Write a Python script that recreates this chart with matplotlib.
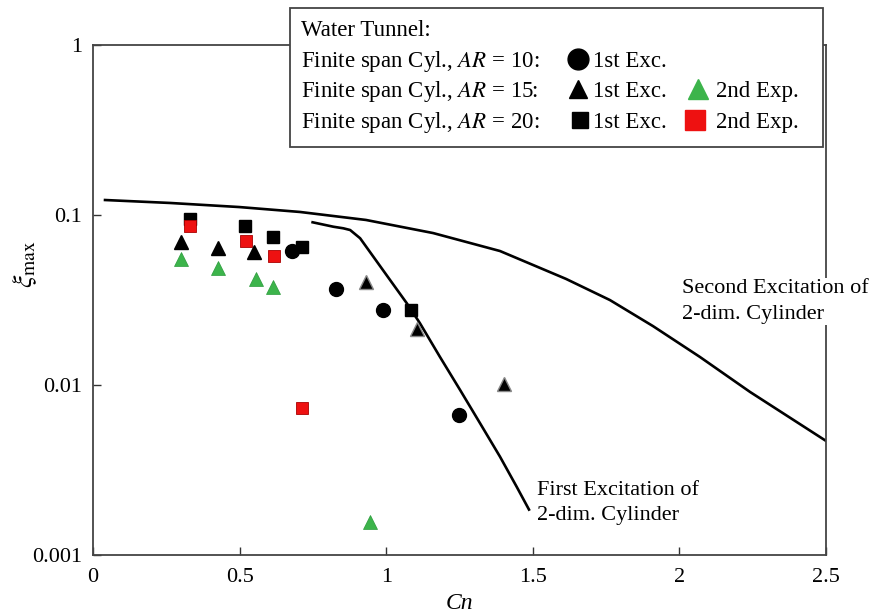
import numpy as np
import matplotlib
matplotlib.use("Agg")
import matplotlib.pyplot as plt
from matplotlib.patches import Rectangle
from matplotlib.lines import Line2D

plt.rcParams['font.family'] = ['Liberation Serif', 'DejaVu Serif']
plt.rcParams['mathtext.fontset'] = 'stix'

# 2-dim. cylinder, second excitation
cn_2nd = [0.041, 0.263, 0.498, 0.706, 0.931, 1.16, 1.388, 1.613, 1.763, 1.91, 2.07, 2.241, 2.5]
xi_2nd = [0.1225, 0.1177, 0.1114, 0.1042, 0.0935, 0.0783, 0.0614, 0.0421, 0.0316, 0.0222,
          0.01462, 0.0091, 0.00469]

# 2-dim. cylinder, first excitation
cn_1st = [0.749, 0.82, 0.854, 0.877, 0.911, 0.956, 1.013, 1.07, 1.115, 1.183, 1.252, 1.32,
          1.388, 1.445, 1.487]
xi_1st = [0.0906, 0.0853, 0.0835, 0.0816, 0.073, 0.0569, 0.0415, 0.0303, 0.0231, 0.01466,
          0.00935, 0.00596, 0.00379, 0.00252, 0.00185]

# AR = 10, 1st exc.
cn_ar10 = [0.68, 0.828, 0.99, 1.247]
xi_ar10 = [0.0614, 0.0367, 0.0276, 0.00664]

# AR = 15, 1st exc.
cn_ar15 = [0.301, 0.426, 0.55]
xi_ar15 = [0.0697, 0.0642, 0.0608]
cn_ar15b = [0.932, 1.104, 1.402]
xi_ar15b = [0.0406, 0.0213, 0.0102]
# AR = 15, 2nd exp.
cn_ar15_2 = [0.301, 0.426, 0.557, 0.615, 0.945]
xi_ar15_2 = [0.0548, 0.049, 0.0419, 0.0376, 0.00156]

# AR = 20, 1st exc.
cn_ar20 = [0.331, 0.52, 0.615, 0.713, 1.085]
xi_ar20 = [0.0947, 0.0865, 0.074, 0.0652, 0.0276]
# AR = 20, 2nd exp.
cn_ar20_2 = [0.331, 0.523, 0.617, 0.713]
xi_ar20_2 = [0.086, 0.0703, 0.0577, 0.00733]

W, H = 886, 613
fig = plt.figure(figsize=(W / 100, H / 100), dpi=100)
ax = fig.add_axes([93 / W, 1 - 555 / H, (826 - 93) / W, (555 - 45) / H])

green = '#3cb44b'
red = '#ee1111'

ax.plot(cn_2nd, xi_2nd, color='black', lw=1.9)
ax.plot(cn_1st, xi_1st, color='black', lw=1.9)

ax.plot(cn_ar20, xi_ar20, 's', color='black', ms=9, ls='none')
ax.plot(cn_ar20_2, xi_ar20_2, 's', color=red, mec='#aa0000', mew=0.6, ms=9, ls='none')
ax.plot(cn_ar15, xi_ar15, '^', color='black', ms=10, ls='none')
ax.plot(cn_ar15b, xi_ar15b, '^', color='black', mec='#888888', mew=1.0, ms=10, ls='none')
ax.plot(cn_ar15_2, xi_ar15_2, '^', color=green, mec='#2a9a3a', mew=0.5, ms=10, ls='none')
ax.plot(cn_ar10, xi_ar10, 'o', color='black', ms=10, ls='none')

ax.set_yscale('log')
ax.set_xlim(0, 2.5)
ax.set_ylim(0.001, 1)
ax.set_xticks([0, 0.5, 1, 1.5, 2, 2.5])
ax.set_xticklabels(['0', '0.5', '1', '1.5', '2', '2.5'])
ax.set_yticks([0.001, 0.01, 0.1, 1])
ax.set_yticklabels(['0.001', '0.01', '0.1', '1'])
ax.yaxis.set_minor_locator(matplotlib.ticker.NullLocator())
ax.tick_params(direction='in', length=6, width=1, colors='#333333', labelcolor='black',
               labelsize=16)
ax.tick_params(axis='x', pad=9)
ax.tick_params(axis='y', pad=8)
for s in ax.spines.values():
    s.set_color('#444444')
    s.set_linewidth(1.3)

ax.set_xlabel('Cn', fontsize=17, style='italic', va='top')
ax.xaxis.set_label_coords(0.5, -0.075)
ax.set_ylabel(r'$\xi_{\mathrm{max}}$', fontsize=20, va='center')
ax.yaxis.set_label_coords(-0.093, 0.57)

ax.text(2.009, 0.031, 'Second Excitation of\n2-dim. Cylinder', fontsize=16,
        linespacing=1.45, va='center', clip_on=False, zorder=4,
        bbox=dict(facecolor='white', edgecolor='none', pad=1))
ax.text(1.513, 0.00202, 'First Excitation of\n2-dim. Cylinder', fontsize=16,
        linespacing=1.45, va='center')


def fx(px):
    return px / W


def fy(py):
    return 1 - py / H


fig.patches.append(Rectangle((fx(290), fy(147)), (823 - 290) / W, (147 - 8) / H,
                             transform=fig.transFigure, facecolor='white',
                             edgecolor='#444444', lw=1.3, zorder=5))

rows_y = [36, 67, 97, 128]
fig.text(fx(301), fy(rows_y[0]), 'Water Tunnel:', fontsize=16.5, va='baseline', zorder=6)
for ar, yy in zip(['10', '15', '20'], rows_y[1:]):
    fig.text(fx(301), fy(yy), 'Finite span Cyl., $\\mathit{AR}$ = ' + ar + ':',
             fontsize=16.5, va='baseline', zorder=6)

keys = [
    (578, rows_y[1], 'o', 'black', 15, 593, '1st Exc.'),
    (578, rows_y[2], '^', 'black', 13, 593, '1st Exc.'),
    (580, rows_y[3], 's', 'black', 12, 593, '1st Exc.'),
    (698, rows_y[2], '^', green, 15, 716, '2nd Exp.'),
    (695, rows_y[3], 's', red, 14, 716, '2nd Exp.'),
]
for kx, ky, m, c, ms, tx, lab in keys:
    fig.add_artist(Line2D([fx(kx)], [fy(ky - 8)], marker=m, color=c, ms=ms, ls='none',
                          transform=fig.transFigure, zorder=6))
    fig.text(fx(tx), fy(ky), lab, fontsize=16.5, va='baseline', zorder=6)

fig.savefig('out.png', dpi=100)
